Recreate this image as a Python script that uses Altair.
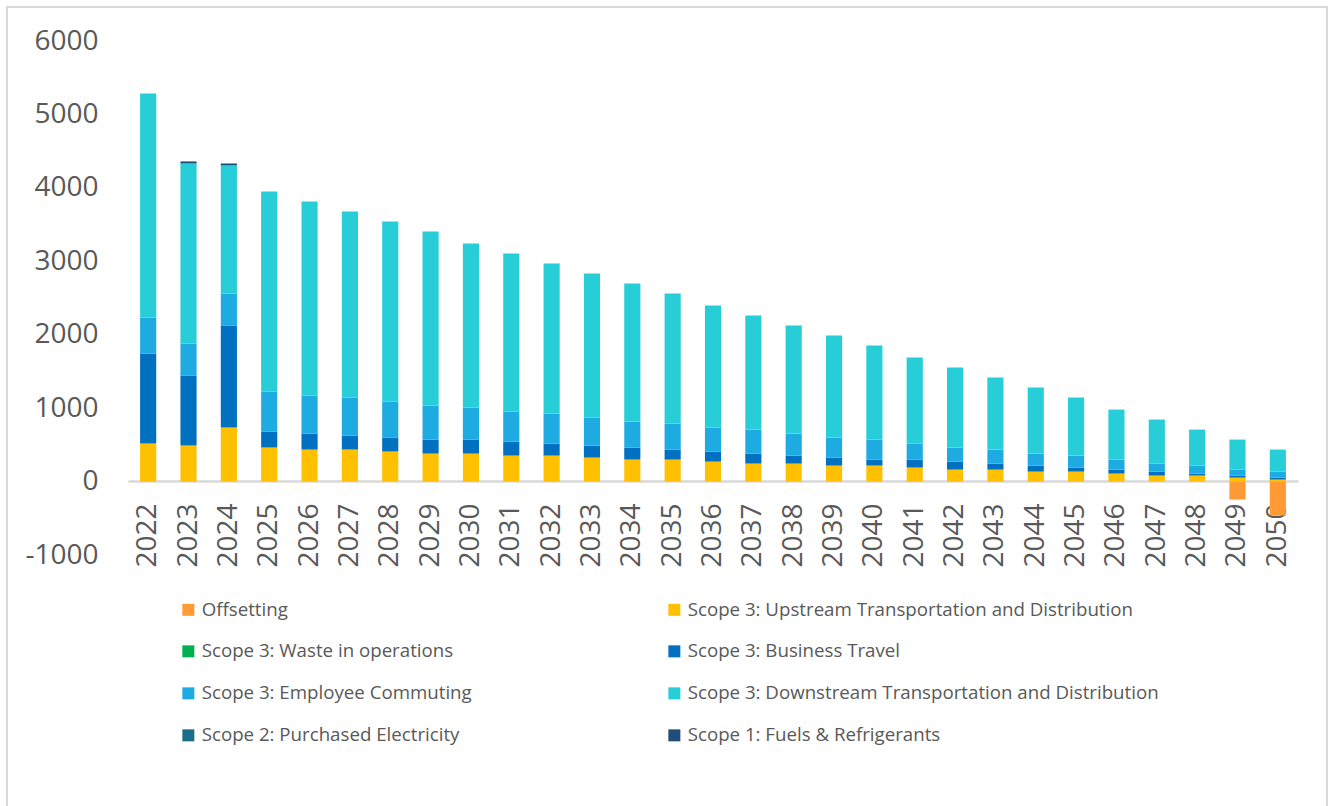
import altair as alt
import pandas as pd

years = [str(y) for y in range(2022, 2051)]

upstream = [518, 490, 736, 463, 436, 436, 409, 381, 381, 354, 354, 327, 300, 300, 272,
            245, 245, 218, 218, 191, 163, 163, 136, 136, 109, 82, 82, 54, 27]
business = [1226, 954, 1389, 218, 218, 191, 190, 191, 191, 191, 164, 163, 163, 136, 137,
            136, 109, 109, 82, 109, 109, 82, 82, 55, 54, 54, 27, 28, 27]
commuting = [490, 436, 436, 545, 518, 517, 491, 463, 436, 409, 408, 382, 354, 354, 327,
             327, 300, 272, 272, 218, 191, 191, 163, 163, 137, 109, 109, 81, 82]
downstream = [3052, 2452, 1744, 2725, 2643, 2534, 2452, 2371, 2235, 2152, 2044, 1962, 1881, 1771, 1662,
              1554, 1471, 1390, 1281, 1171, 1090, 981, 900, 790, 681, 600, 490, 409, 300]
scope1 = [0, 28, 27, 0, 0, 0, 0, 0, 0, 0, 0, 0, 0, 0, 0,
          0, 0, 0, 0, 0, 0, 0, 0, 0, 0, 0, 0, 0, 0]
scope2 = [0] * 29
waste = [0] * 29
offsetting = [0] * 27 + [-245, -463]

# legend is filled column by column: first column, then second column
legend_order = [
    "Offsetting",
    "Scope 3: Waste in operations",
    "Scope 3: Employee Commuting",
    "Scope 2: Purchased Electricity",
    "Scope 3: Upstream Transportation and Distribution",
    "Scope 3: Business Travel",
    "Scope 3: Downstream Transportation and Distribution",
    "Scope 1: Fuels & Refrigerants",
]
colors = ["#FF9A35", "#00B050", "#1EABE2", "#1A6E8C", "#FFC000", "#0070C0", "#27CED7", "#1F4E79"]

# stacking order bottom -> top
series_data = [
    ("Scope 3: Upstream Transportation and Distribution", upstream),
    ("Scope 3: Waste in operations", waste),
    ("Scope 3: Business Travel", business),
    ("Scope 3: Employee Commuting", commuting),
    ("Scope 3: Downstream Transportation and Distribution", downstream),
    ("Scope 2: Purchased Electricity", scope2),
    ("Scope 1: Fuels & Refrigerants", scope1),
    ("Offsetting", offsetting),
]

rows = []
for k, (name, vals) in enumerate(series_data):
    for y, v in zip(years, vals):
        rows.append({"year": y, "series": name, "value": v, "order": k})
df = pd.DataFrame(rows)

FONT = "Open Sans"
GREY = "#595959"

bars = alt.Chart(df).mark_bar().encode(
    x=alt.X("year:O", sort=years,
            scale=alt.Scale(paddingInner=0.6, paddingOuter=0.3),
            axis=alt.Axis(title=None, labelAngle=-90, labelFontSize=28, labelFont=FONT,
                          labelColor=GREY, ticks=False, domainColor="#D9D9D9",
                          domainWidth=2.5, offset=-74, labelPadding=22)),
    y=alt.Y("value:Q", stack="zero",
            scale=alt.Scale(domain=[-1000, 6000], nice=False),
            axis=alt.Axis(title=None, values=list(range(-1000, 7000, 1000)), labelFontSize=28,
                          labelFont=FONT, labelColor=GREY, ticks=False, domain=False,
                          grid=False, labelPadding=30, labelExpr="'' + datum.value")),
    color=alt.Color("series:N", sort=legend_order,
                    scale=alt.Scale(domain=legend_order, range=colors),
                    legend=alt.Legend(title=None, orient="none", legendX=51, legendY=559,
                                      columns=2, columnPadding=193, rowPadding=22,
                                      symbolType="square", symbolSize=144, labelFontSize=18.7,
                                      labelFont=FONT, labelColor=GREY, labelLimit=700,
                                      symbolStrokeWidth=0, padding=0)),
    order=alt.Order("order:Q", sort="ascending"),
)

frame = alt.Chart(pd.DataFrame({"d": [0]})).mark_rect(
    fillOpacity=0, stroke="#D9D9D9", strokeWidth=2
).encode(
    x=alt.value(-121), x2=alt.value(1199), y=alt.value(-34), y2=alt.value(790)
)

chart = alt.layer(frame, bars).properties(
    width=1170, height=514,
    background="white",
    autosize=alt.AutoSizeParams(type="none"),
    padding={"left": 128, "top": 41, "right": 37, "bottom": 251},
).configure_view(strokeWidth=0)

chart.save("out.html", embed_options={"renderer": "svg", "actions": False})
